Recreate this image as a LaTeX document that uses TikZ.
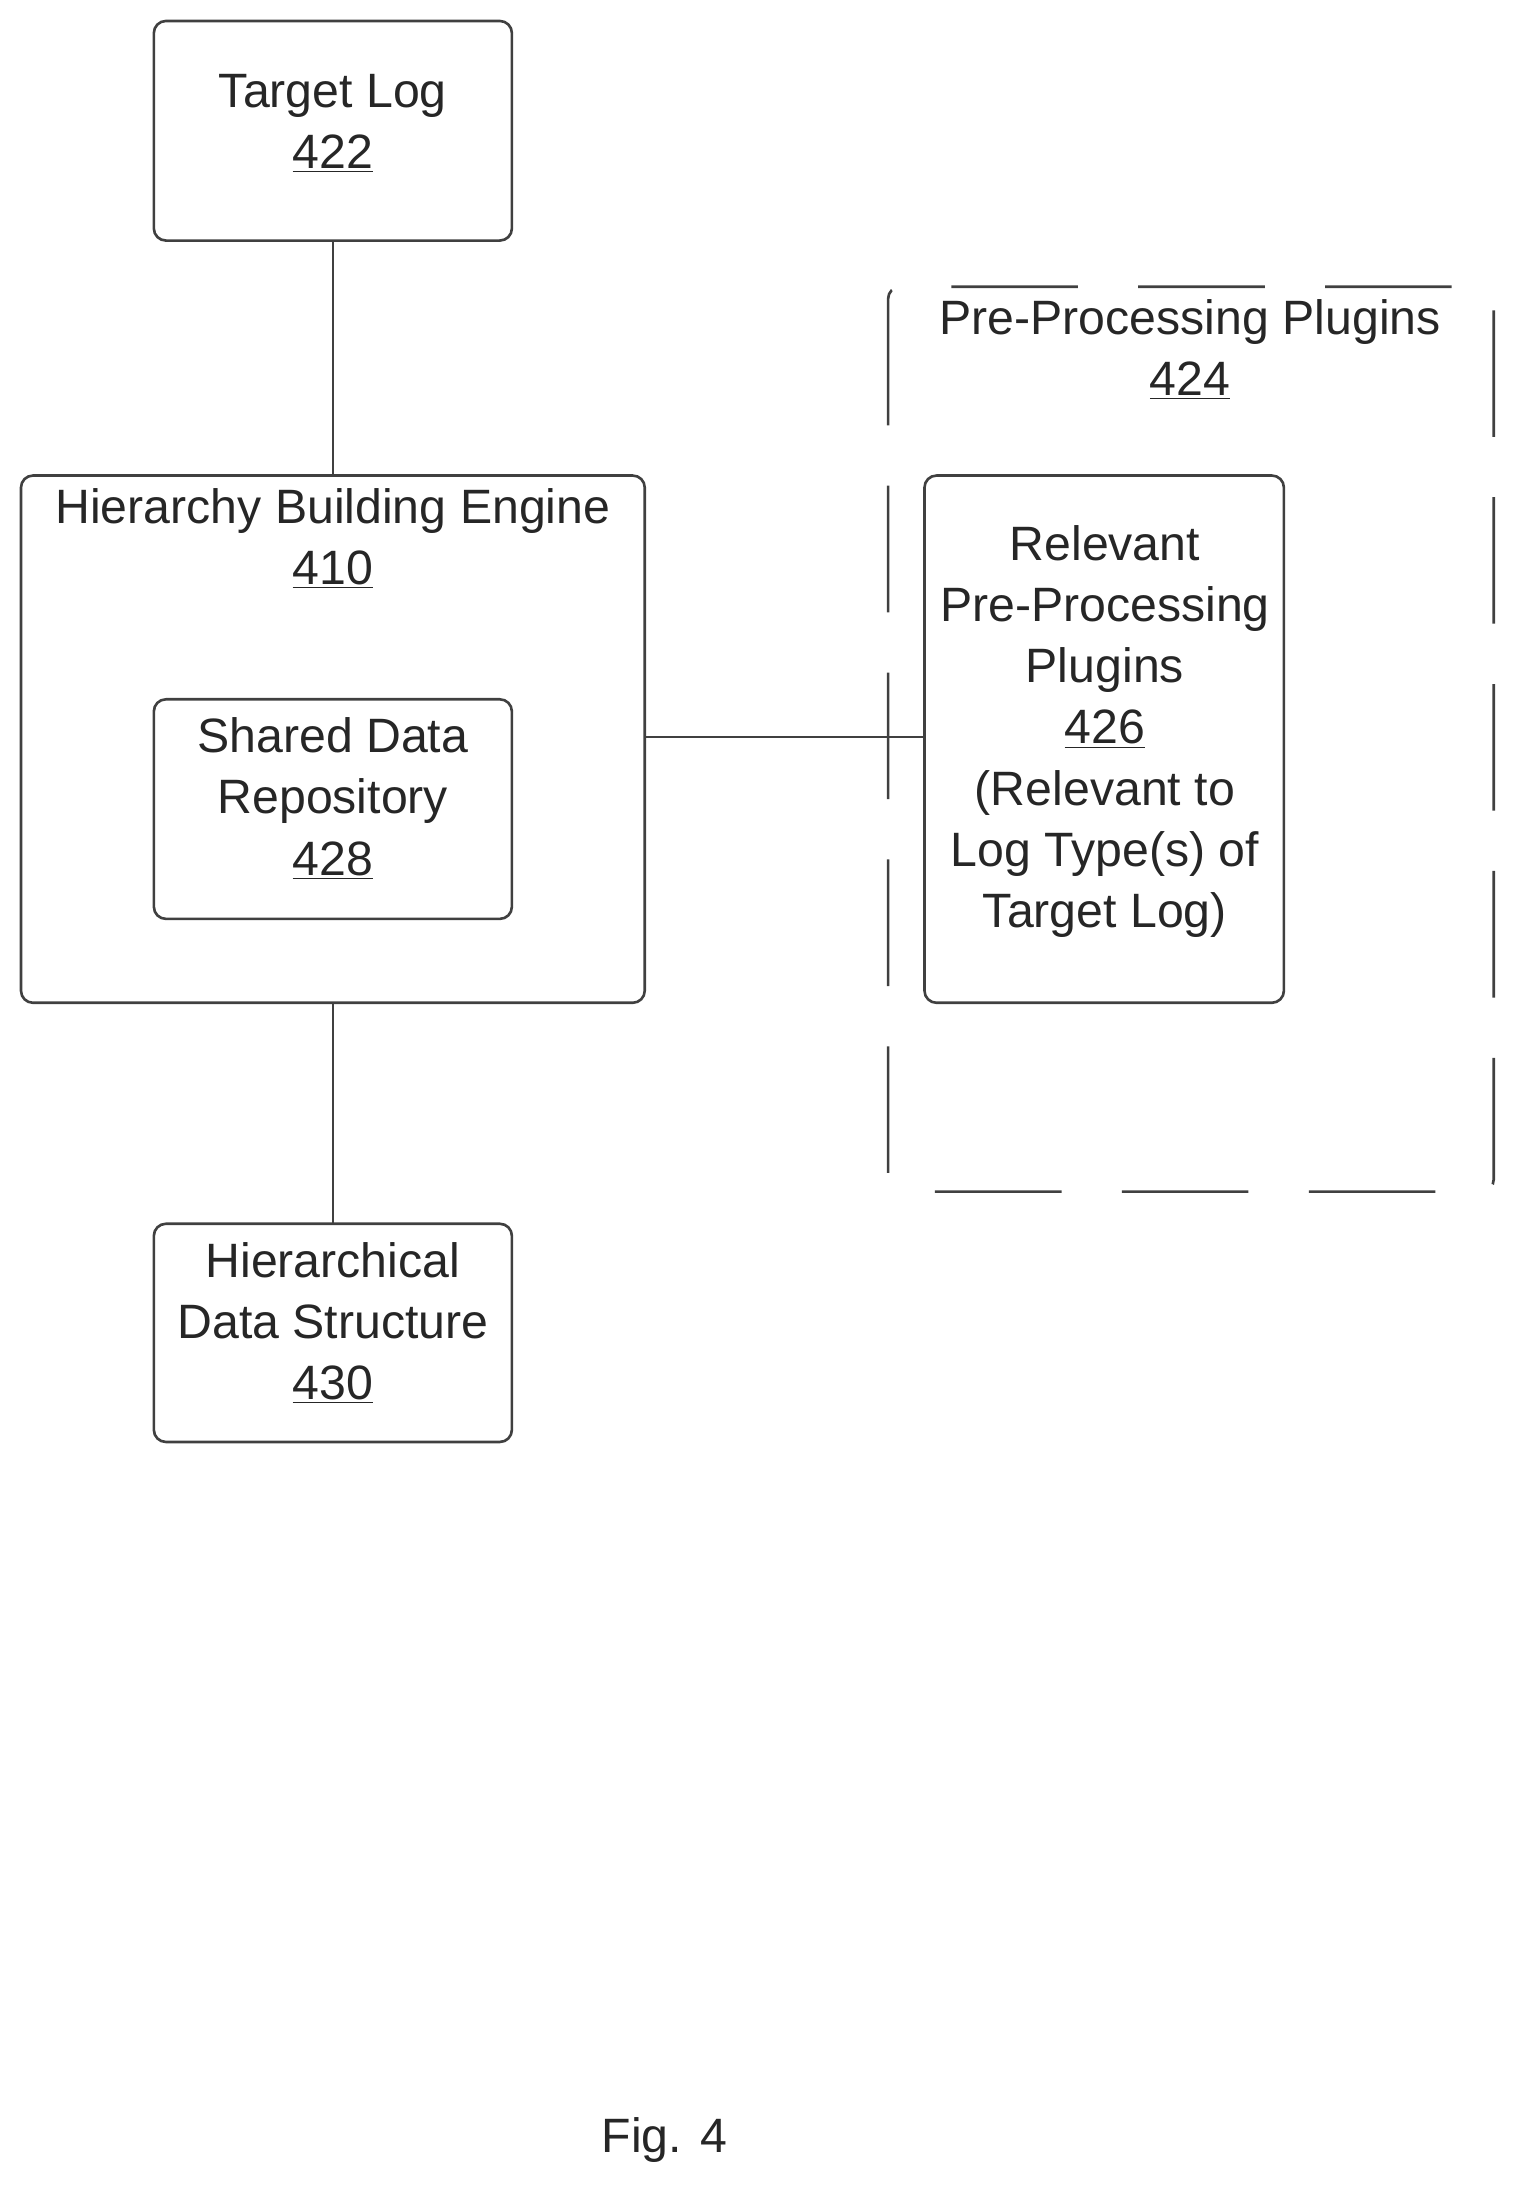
\documentclass[tikz,border=0pt]{standalone}
\usepackage{fontspec}
\setmainfont{Liberation Sans}
\begin{document}
\begin{tikzpicture}[x=0.696pt,y=-0.696pt,
  box/.style={draw=black!75,line width=1.3pt,rounded corners=6pt},
  dbox/.style={draw=black!75,line width=1.3pt,rounded corners=6pt,dash pattern=on 63pt off 30pt},
  lbl/.style={align=center,font=\fontsize{24}{30.5}\selectfont,text=black!85},
  conn/.style={draw=black!75,line width=1.3pt}]
\useasboundingbox (0,0) rectangle (1085,1563);
\draw[box] (110,15) rectangle (366,172) coordinate (tlc);
\node[lbl] (tl) at (238,88) {Target Log\\\underline{422}};
\coordinate (tlb) at (238,172);
\draw[box] (15,340) rectangle (461,717);
\node[lbl] (hbe) at (238,385) {Hierarchy Building Engine\\\underline{410}};
\coordinate (hbt) at (238,340); \coordinate (hbb) at (238,717); \coordinate (hbr) at (461,527);
\draw[box] (110,500) rectangle (366,657);
\node[lbl] (sdr) at (238,571) {Shared Data\\Repository\\\underline{428}};
\draw[box] (110,875) rectangle (366,1031);
\node[lbl] (hds) at (238,946) {Hierarchical\\Data Structure\\\underline{430}};
\coordinate (hdt) at (238,875);
\draw[dbox] (635,205) rectangle (1068,852);
\node[lbl] (ppp) at (851,250) {Pre-Processing Plugins\\\underline{424}};
\draw[box] (661,340) rectangle (918,717);
\node[lbl] (rpp) at (790,523) {Relevant\\Pre-Processing\\Plugins\\\underline{426}\\(Relevant to\\Log Type(s) of\\Target Log)};
\coordinate (rpl) at (661,527);
\draw[conn] (tlb) -- (hbt);
\draw[conn] (hbb) -- (hdt);
\draw[conn] (hbr) -- (rpl);
\node[lbl] (fig) at (475,1530) {Fig. 4};
\end{tikzpicture}
\end{document}
